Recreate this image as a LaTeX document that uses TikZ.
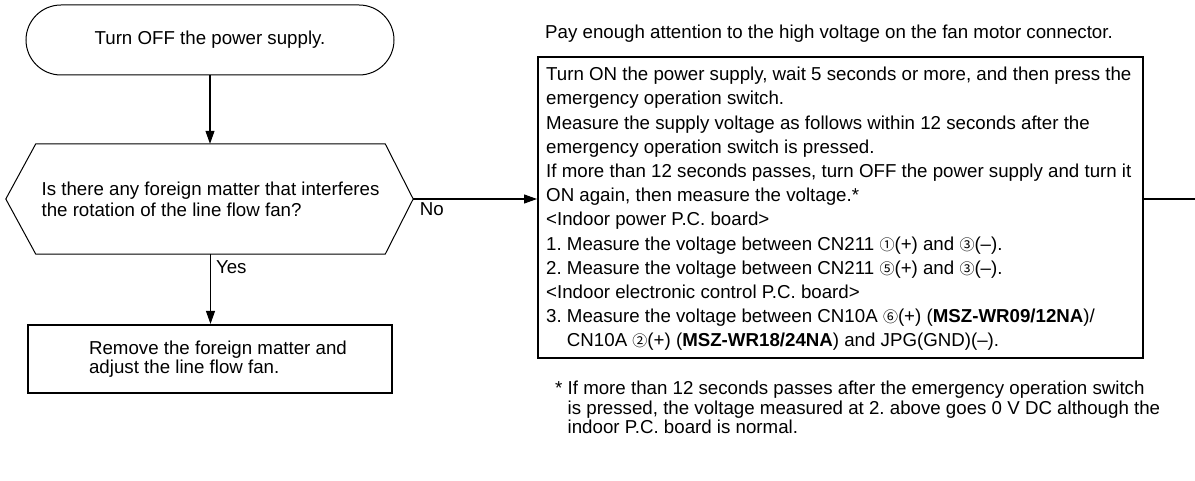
\documentclass[tikz,border=0pt]{standalone}
\usepackage{fontspec}
\setmainfont{Liberation Sans}
\newfontfamily\symf{Noto Sans CJK JP}
\usetikzlibrary{arrows.meta,shapes.misc,calc}
\newcommand{\cd}[1]{{\symf\fontsize{15}{15}\selectfont #1}}
\begin{document}
\frenchspacing
\begin{tikzpicture}[x=1pt,y=1pt,
  every node/.style={font=\fontsize{18.7}{21.5}\selectfont, inner sep=0pt},
  thinline/.style={line width=1.1pt},
  heavy/.style={line width=2.2pt},
  arr/.style={line width=1.1pt, -{Triangle[length=13pt,width=9pt]}},
]
\useasboundingbox (0,0) rectangle (1195,-481);

\node[rounded rectangle, draw, line width=1pt, minimum width=368pt, minimum height=70pt] (start) at (210,-40) {Turn OFF the power supply.};

\node[minimum width=349pt, minimum height=110pt, align=left, font=\fontsize{18.7}{21}\selectfont] (dec) at (210.5,-199)
  {Is there any foreign matter that interferes\\the rotation of the line flow fan?};
\coordinate (decR) at ($(dec.east)+(28,0)$);
\coordinate (decL) at ($(dec.west)+(-30,0)$);
\draw[line width=1pt] (dec.north west) -- (dec.north east) -- (decR) -- (dec.south east)
  -- (dec.south west) -- (decL) -- cycle;

\node[draw, heavy, minimum width=364pt, minimum height=68pt] (rem) at (210,-359) {};
\node[anchor=west, align=left, font=\fontsize{18.7}{19}\selectfont] (remtext) at ($(rem.west)+(62,0)$)
  {Remove the foreign matter and\\adjust the line flow fan.};

\node[anchor=base west] (pay) at (545,-38.5) {Pay enough attention to the high voltage on the fan motor connector.};

\node[draw, heavy, minimum width=605pt, minimum height=301pt, anchor=north west] (act) at (537,-56) {};
\node[anchor=north west, align=left, font=\fontsize{18.7}{24.2}\selectfont] (acttext) at (546,-67) {%
Turn ON the power supply, wait 5 seconds or more, and then press the\\
emergency operation switch.\\
Measure the supply voltage as follows within 12 seconds after the\\
emergency operation switch is pressed.\\
If more than 12 seconds passes, turn OFF the power supply and turn it\\
ON again, then measure the voltage.*\\
<Indoor power P.C. board>\\
1. Measure the voltage between CN211 \cd{①}(+) and \cd{③}(–).\\
2. Measure the voltage between CN211 \cd{⑤}(+) and \cd{③}(–).\\
<Indoor electronic control P.C. board>\\
3. Measure the voltage between CN10A \cd{⑥}(+) (\textbf{MSZ-WR09/12NA})/\\
\hphantom{3.\ }CN10A \cd{②}(+) (\textbf{MSZ-WR18/24NA}) and JPG(GND)(–).};

\node[anchor=north west, align=left, font=\fontsize{18.7}{19.5}\selectfont] (note) at (555,-381) {%
* If more than 12 seconds passes after the emergency operation switch\\
\hphantom{*\ }is pressed, the voltage measured at 2. above goes 0 V DC although the\\
\hphantom{*\ }indoor P.C. board is normal.};

\draw[arr] (start.south) -- (start.south |- dec.north);
\draw[arr] (dec.south) -- (dec.south |- rem.north) node[pos=0.18, anchor=west, xshift=5pt] {Yes};
\draw[arr] (decR) -- (decR -| act.west) node[pos=0, anchor=north west, xshift=6pt, yshift=-3pt] {No};
\coordinate (rend) at (1195,-199);
\draw[thinline] (act.east |- rend) -- (rend);
\end{tikzpicture}
\end{document}
